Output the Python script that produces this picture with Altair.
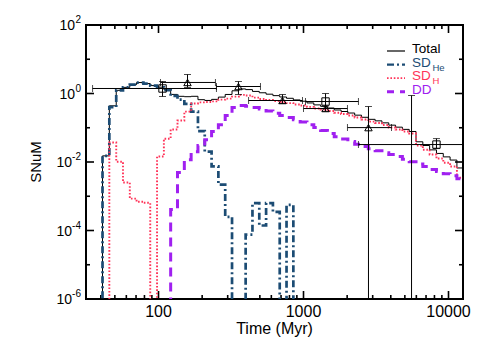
import altair as alt
import pandas as pd

FONT = "Liberation Sans"

# ---------------- data ----------------
bin_edges = [41.1, 45.8, 51.1, 56.9, 63.4, 70.6, 78.7, 87.7, 97.7, 108.9,
             121.3, 135.2, 150.7, 167.9, 187.1, 208.4, 232.3, 258.8, 288.4, 321.4,
             358.1, 399.0, 444.6, 495.5, 552.1, 615.2, 685.5, 763.8, 851.1, 948.4,
             1057, 1178, 1312, 1462, 1629, 1816, 2023, 2254, 2512, 2799,
             3119, 3475, 3873, 4315, 4808, 5358, 5970, 6653, 7413, 8260,
             9204, 10257, 11429, 12735]

sd_he = [0.0151, 0.398, 1.23, 1.51, 1.82, 2.09, 1.95, 1.70, 1.51, 1.26,
         0.851, 0.661, 0.501, 0.295, 0.0794, 0.0200, 0.00741, 0.00219, 0.000251, 0,
         0, 7.6e-5, 6.3e-4, 1.4e-4, 6.3e-4, 3.5e-4, 0, 5.6e-4, 0, 0,
         0, 0, 0, 0, 0, 0, 0, 0, 0, 0,
         0, 0, 0, 0, 0, 0, 0, 0, 0, 0,
         0, 0, 0]

sd_h = [0, 0.0372, 0.0102, 0.00251, 0.000851, 0.000692, 0.000646, 0, 0.0145, 0.0479,
        0.0891, 0.162, 0.295, 0.513, 0.550, 0.562, 0.589, 0.661, 0.708, 0.813,
        0.912, 0.871, 0.759, 0.692, 0.646, 0.603, 0.562, 0.525, 0.479, 0.447,
        0.407, 0.363, 0.339, 0.309, 0.275, 0.251, 0.229, 0.200, 0.174, 0.151,
        0.138, 0.120, 0.102, 0.0891, 0.0776, 0.0676, 0.0302, 0.0229, 0.0166, 0.0126,
        0.00955, 0.00741, 0.00347]

dd = [0, 0, 0, 0, 0, 0, 0, 0, 0, 0,
      0.000407, 0.00490, 0.0117, 0.0200, 0.0302, 0.0447, 0.0776, 0.123, 0.229, 0.389,
      0.447, 0.427, 0.389, 0.355, 0.309, 0.263, 0.229, 0.200, 0.170, 0.148,
      0.123, 0.102, 0.0832, 0.0676, 0.0550, 0.0468, 0.0398, 0.0331, 0.0282, 0.0245,
      0.0214, 0.0186, 0.0166, 0.0145, 0.0120, 0.0102, 0.00871, 0.00741, 0.00603, 0.00525,
      0.00457, 0.00398, 0.00324]

total = [0.0151, 0.437, 1.24, 1.51, 1.82, 2.09, 1.95, 1.70, 1.53, 1.31,
         0.940, 0.827, 0.807, 0.828, 0.660, 0.627, 0.674, 0.785, 0.937, 1.20,
         1.36, 1.30, 1.15, 1.05, 0.955, 0.866, 0.791, 0.725, 0.649, 0.595,
         0.530, 0.465, 0.422, 0.377, 0.330, 0.298, 0.269, 0.233, 0.202, 0.176,
         0.159, 0.139, 0.119, 0.104, 0.0896, 0.0778, 0.0389, 0.0303, 0.0226, 0.0178,
         0.0141, 0.0114, 0.0067]

# observational points
obs_time = [106.6, 158.5, 356, 716, 1419, 1419, 2806, 8260]
obs_rate = [1.40, 2.10, 1.60, 0.624, 0.583, 0.364, 0.101, 0.0323]
obs_time_lo = [35.1, 103.2, 251, 418, 1032, 1000, 2010, 2393]
obs_time_hi = [251, 247, 505, 984, 2393, 2010, 4045, 20000]
obs_rate_lo = [0.817, 1.50, 0.935, 0.51, 0.364, 0.300, 1e-9, 0.0247]
obs_rate_hi = [2.24, 3.59, 2.24, 0.935, 1.00, 0.430, 0.417, 0.0483]
obs_marker = ["square", "triangle-up", "triangle-up", "triangle-up",
              "square", "triangle-up", "triangle-up", "square"]

# error bar without visible marker
lone_time = [5560]
lone_rate_hi = [0.874]
lone_rate_lo = [1e-9]

x_major = [100, 1000, 10000]
x_major_labels = ["100", "1000", "10000"]
x_minor = [40, 50, 60, 70, 80, 90, 200, 300, 400, 500, 600, 700, 800, 900,
           2000, 3000, 4000, 5000, 6000, 7000, 8000, 9000]
y_major = [1e-6, 1e-4, 1e-2, 1, 100]
y_exps = ["-6", "-4", "-2", "0", "2"]
y_minor = [1e-5, 1e-3, 1e-1, 10]

series_names = ["Total", "SD", "SD", "DD"]
series_subs = ["", "He", "H", ""]
series_colors = ["#000000", "#1c4c74", "#ff3358", "#a020f0"]

# ---------------- chart ----------------
W, H = 377, 274
FLOOR = 1e-9
xs = alt.Scale(type="log", domain=[31.62, 12589], nice=False)
ys = alt.Scale(type="log", domain=[1e-6, 100], nice=False)


def step_df(vals):
    t = [31.62] + bin_edges
    v = [FLOOR] + [x if x > 0 else FLOOR for x in vals] + [vals[-1] if vals[-1] > 0 else FLOOR]
    return pd.DataFrame({"t": t, "v": v})


def step_line(vals, color, width, dash=None):
    kw = dict(interpolate="step-after", clip=True, color=color, strokeWidth=width)
    if dash:
        kw["strokeDash"] = dash
    return alt.Chart(step_df(vals)).mark_line(**kw).encode(
        x=alt.X("t:Q", scale=xs, axis=None),
        y=alt.Y("v:Q", scale=ys, axis=None),
    )


layers = []

# ticks (inside)
xmaj = pd.DataFrame({"t": x_major})
xmin = pd.DataFrame({"t": x_minor})
ymaj = pd.DataFrame({"v": y_major})
ymin = pd.DataFrame({"v": y_minor})
for df, L in ((xmaj, 8), (xmin, 4)):
    X = alt.X("t:Q", scale=xs, axis=None)
    layers.append(alt.Chart(df).mark_rule(color="black", strokeWidth=1.6).encode(
        x=X, y=alt.value(H), y2=alt.value(H - L)))
    layers.append(alt.Chart(df).mark_rule(color="black", strokeWidth=1.6).encode(
        x=X, y=alt.value(0), y2=alt.value(L)))
for df, L in ((ymaj, 8), (ymin, 4)):
    Y = alt.Y("v:Q", scale=ys, axis=None)
    layers.append(alt.Chart(df).mark_rule(color="black", strokeWidth=1.6).encode(
        y=Y, x=alt.value(0), x2=alt.value(L)))
    layers.append(alt.Chart(df).mark_rule(color="black", strokeWidth=1.6).encode(
        y=Y, x=alt.value(W), x2=alt.value(W - L)))

# model curves
layers.append(step_line(total, series_colors[0], 1.0))
layers.append(step_line(sd_he, series_colors[1], 2.7, [7, 3, 2, 3]))
layers.append(step_line(sd_h, series_colors[2], 1.9, [1.6, 1.8]))
layers.append(step_line(dd, series_colors[3], 3.0, [9, 6]))

# observations
obs = pd.DataFrame({"t": obs_time, "v": obs_rate, "tlo": obs_time_lo, "thi": obs_time_hi,
                    "vlo": obs_rate_lo, "vhi": obs_rate_hi, "m": obs_marker})
lone = pd.DataFrame({"t": lone_time, "vlo": lone_rate_lo, "vhi": lone_rate_hi})
XQ = lambda f: alt.X(f, type="quantitative", scale=xs, axis=None)
YQ = lambda f: alt.Y(f, type="quantitative", scale=ys, axis=None)

layers.append(alt.Chart(obs).mark_rule(color="black", strokeWidth=1, clip=True).encode(
    x=XQ("tlo"), x2="thi", y=YQ("v")))
layers.append(alt.Chart(obs).mark_rule(color="black", strokeWidth=1, clip=True).encode(
    x=XQ("t"), y=YQ("vlo"), y2="vhi"))
layers.append(alt.Chart(lone).mark_rule(color="black", strokeWidth=1, clip=True).encode(
    x=XQ("t"), y=YQ("vlo"), y2="vhi"))
for f in ("tlo", "thi"):
    layers.append(alt.Chart(obs).mark_tick(color="black", orient="vertical", size=7,
                                           thickness=1, clip=True).encode(
        x=XQ(f), y=YQ("v")))
for f in ("vlo", "vhi"):
    layers.append(alt.Chart(obs).mark_tick(color="black", orient="horizontal", size=7,
                                           thickness=1, clip=True).encode(
        x=XQ("t"), y=YQ(f)))
layers.append(alt.Chart(lone).mark_tick(color="black", orient="horizontal", size=7,
                                        thickness=1, clip=True).encode(
    x=XQ("t"), y=YQ("vhi")))
layers.append(alt.Chart(obs).mark_point(filled=False, color="black", size=55,
                                        strokeWidth=1, opacity=1).encode(
    x=XQ("t"), y=YQ("v"), shape=alt.Shape("m:N", scale=None)))

# x tick labels and title
layers.append(alt.Chart(pd.DataFrame({"t": x_major, "lab": x_major_labels})).mark_text(
    font=FONT, fontSize=16, baseline="top", align="center", color="black").encode(
    x=XQ("t"), y=alt.value(H + 5), text="lab:N"))
layers.append(alt.Chart(pd.DataFrame({"s": ["Time (Myr)"]})).mark_text(
    font=FONT, fontSize=16, baseline="top", align="center", color="black").encode(
    x=alt.value(W / 2), y=alt.value(H + 22), text="s:N"))
# y title
layers.append(alt.Chart(pd.DataFrame({"s": ["SNuM"]})).mark_text(
    font=FONT, fontSize=15, baseline="middle", align="center", angle=270,
    color="black").encode(x=alt.value(-50), y=alt.value(H / 2), text="s:N"))

# y tick labels 10^n
ylab = pd.DataFrame({"v": y_major, "e": y_exps})
neg = alt.Chart(ylab).transform_filter("indexof(datum.e, '-') == 0")
pos = alt.Chart(ylab).transform_filter("indexof(datum.e, '-') != 0")
for base, xten in ((neg, -14), (pos, -11)):
    layers.append(base.mark_text(font=FONT, fontSize=14, align="right", baseline="middle",
                                 color="black", dy=1).encode(
        y=YQ("v"), x=alt.value(xten), text=alt.value("10")))
    layers.append(base.mark_text(font=FONT, fontSize=10, align="right", baseline="middle",
                                 color="black", dy=-5).encode(
        y=YQ("v"), x=alt.value(-5), text="e:N"))

# legend
leg_rows = [24, 37.6, 51.2, 64.8]
dashes = [None, [7, 3, 2, 3], [1.6, 1.8], [7, 6]]
widths = [1.2, 2.4, 1.8, 3.0]
for i in range(4):
    yy = leg_rows[i]
    kw = dict(color=series_colors[i], strokeWidth=widths[i])
    if dashes[i]:
        kw["strokeDash"] = dashes[i]
    layers.append(alt.Chart(pd.DataFrame({"a": [0]})).mark_rule(**kw).encode(
        x=alt.value(301), x2=alt.value(319), y=alt.value(yy + 2)))
    layers.append(alt.Chart(pd.DataFrame({"s": [series_names[i]]})).mark_text(
        font=FONT, fontSize=13.5, align="left", baseline="middle",
        color=series_colors[i] if i else "black").encode(
        x=alt.value(326), y=alt.value(yy), text="s:N"))
    if series_subs[i]:
        layers.append(alt.Chart(pd.DataFrame({"s": [series_subs[i]]})).mark_text(
            font=FONT, fontSize=9.5, align="left", baseline="middle",
            color=series_colors[i]).encode(
            x=alt.value(346.5), y=alt.value(yy + 5), text="s:N"))

chart = alt.layer(*layers).properties(
    width=W, height=H, autosize="none",
    padding={"left": 78, "top": 17, "right": 20, "bottom": 43},
).configure_view(stroke="black", strokeWidth=2)

chart.save("out.html", embed_options={"renderer": "svg", "actions": False})
